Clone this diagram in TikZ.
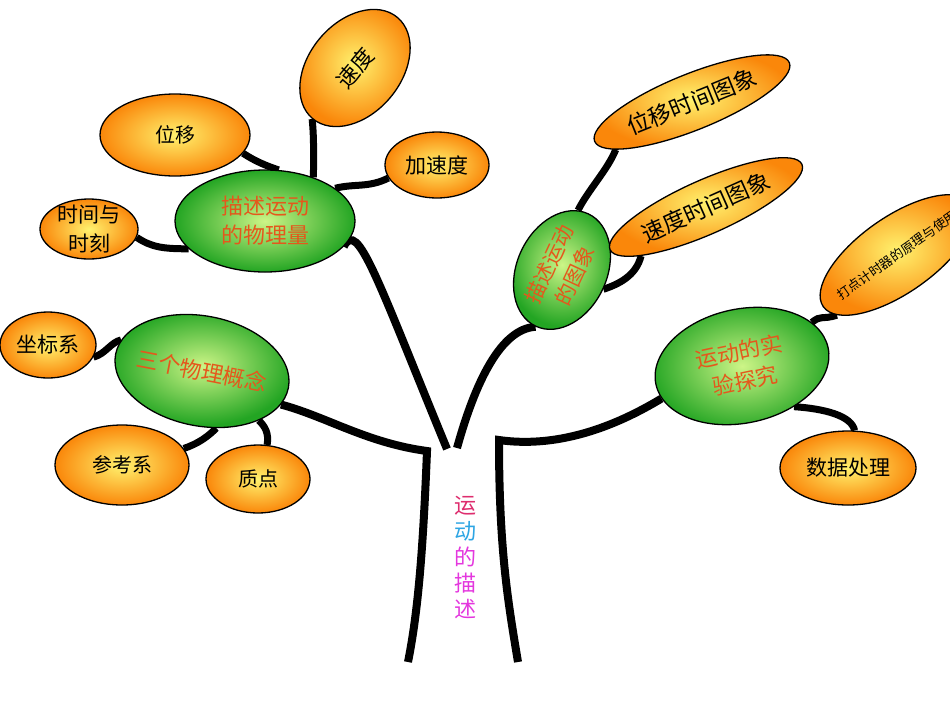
\documentclass[tikz,border=0pt]{standalone}
\usepackage{xcolor}
\usepackage{tikz}
\usetikzlibrary{shapes,backgrounds,calc}
\usepackage{fontspec}
\newfontfamily\cjk{Noto Sans CJK SC}

\definecolor{leafout}{RGB}{250,135,10}
\definecolor{leafin}{RGB}{255,242,110}
\definecolor{budout}{RGB}{35,165,35}
\definecolor{budin}{RGB}{205,245,135}
\definecolor{budtext}{RGB}{228,88,28}
\definecolor{yunred}{RGB}{222,45,110}
\definecolor{dongblue}{RGB}{45,165,228}
\definecolor{descpink}{RGB}{228,55,222}

\begin{document}
\begin{tikzpicture}[x=1pt,y=-1pt]
            \tikzstyle{leaf}=[ellipse,draw,line width=1.3pt,inner color=leafin,outer color=leafout,inner sep=0pt,align=center];
            \tikzstyle{bud}=[ellipse,draw,line width=1.3pt,inner color=budin,outer color=budout,inner sep=0pt,align=center,text=budtext];
            \tikzstyle{twig}=[line width=7pt];
            \tikzstyle{trunk}=[line width=8pt];

            \useasboundingbox (0,0) rectangle (950,713);
            \clip (0,0) rectangle (950,713);

            % the three green buds on the left, middle and right
            \node[bud,minimum width=180pt,minimum height=102pt,font=\cjk\fontsize{22pt}{29pt}\selectfont] (wlq) at (265,221) {描述运动\\的物理量};
            \node[bud,rotate=-11,minimum width=176pt,minimum height=110pt,inner xsep=-4pt,font=\cjk\fontsize{22pt}{28pt}\selectfont] (sgg) at (202,371) {三个物理概念};
            \node[bud,rotate=65,minimum width=124pt,minimum height=90pt,font=\cjk\fontsize{21pt}{28pt}\selectfont] (txg) at (562,270) {描述运动\\的图象};
            \node[bud,rotate=12,minimum width=176pt,minimum height=114pt,font=\cjk\fontsize{22pt}{30pt}\selectfont] (syt) at (742,366) {运动的实\\验探究};

            % orange leaves
            \node[leaf,minimum width=150pt,minimum height=82pt,font=\cjk\fontsize{20pt}{24pt}\selectfont] (wy) at (175,135) {位移};
            \node[leaf,rotate=50,minimum width=132pt,minimum height=92pt,font=\cjk\fontsize{22pt}{26pt}\selectfont] (sd) at (355,68) {速度};
            \node[leaf,minimum width=104pt,minimum height=66pt,font=\cjk\fontsize{21pt}{25pt}\selectfont] (jsd) at (437,165) {加速度};
            \node[leaf,minimum width=98pt,minimum height=60pt,inner ysep=-3pt,font=\cjk\fontsize{21pt}{29pt}\selectfont] (sj) at (89,229) {时间与\\时刻};
            \node[leaf,minimum width=96pt,minimum height=66pt,font=\cjk\fontsize{21pt}{25pt}\selectfont] (zbx) at (48,345) {坐标系};
            \node[leaf,minimum width=134pt,minimum height=80pt,font=\cjk\fontsize{20pt}{24pt}\selectfont] (ckx) at (122,465) {参考系};
            \node[leaf,minimum width=104pt,minimum height=68pt,font=\cjk\fontsize{20pt}{24pt}\selectfont] (zd) at (258,479) {质点};
            \node[leaf,rotate=22,minimum width=210pt,minimum height=56pt,font=\cjk\fontsize{23pt}{27pt}\selectfont] (wyt) at (692,102) {位移时间图象};
            \node[leaf,rotate=24,minimum width=210pt,minimum height=54pt,font=\cjk\fontsize{23pt}{27pt}\selectfont] (sdt) at (706,207) {速度时间图象};
            \node[leaf,rotate=35,minimum width=180pt,minimum height=76pt,inner xsep=-8pt,font=\cjk\fontsize{13pt}{16pt}\selectfont] (dsj) at (897,255) {打点计时器的原理与使用};
            \node[leaf,minimum width=136pt,minimum height=74pt,font=\cjk\fontsize{21pt}{25pt}\selectfont] (sjcl) at (848,468) {数据处理};

            % title on the trunk
            \node[font=\cjk\fontsize{22pt}{26pt}\selectfont,align=center] (title) at (465,558) {\textcolor{yunred}{运}\\\textcolor{dongblue}{动}\\\textcolor{descpink}{的}\\\textcolor{descpink}{描}\\\textcolor{descpink}{述}};

            % ends of the trunk and the fork
            \coordinate (lt) at (427,451);
            \coordinate (ltb) at (408,662);
            \coordinate (rt) at (499,440);
            \coordinate (rtb) at (518,662);
            \coordinate (vl) at (447,449);
            \coordinate (vr) at (457,448);

            \begin{scope}[on background layer]
                \fill[white] (0,0) rectangle (950,713);
                % trunk with its two low branches
                \draw[trunk] (ltb) .. controls +(10,-50) and +(-4,100) .. (lt) .. controls +(-60,-8) and +(45,12) .. (sgg.-12);
                \draw[trunk] (rtb) .. controls +(-10,-60) and +(0,110) .. (rt) .. controls +(70,10) and +(-30,18) .. (syt.190);
                % the fork in the middle
                \draw[trunk] (vl) .. controls +(-70,-170) and +(14,-28) .. (wlq.-18);
                \draw[trunk] (vr) .. controls +(18,-65) and +(-35,2) .. (txg.west);
                % twigs
                \draw[twig] (wy.-15) .. controls +(12,8) and +(-12,-4) .. (wlq.75);
                \draw[twig] (sd.west) .. controls +(2,20) and +(0,-20) .. (wlq.42);
                \draw[twig] (jsd.195) .. controls +(-20,10) and +(20,-5) .. (wlq.25);
                \draw[twig] (sj.-10) .. controls +(15,10) and +(-25,0) .. (wlq.200);
                \draw[twig] (zbx.-15) .. controls +(12,-3) and +(-10,2) .. (sgg.170);
                \draw[twig] (ckx.15) .. controls +(15,-5) and +(-8,8) .. (sgg.-65);
                \draw[twig] (zd.75) .. controls +(2,-12) and +(6,6) .. (sgg.-30);
                \draw[twig] (wyt.190) .. controls +(-8,20) and +(10,-20) .. (txg.10);
                \draw[twig] (sdt.193) .. controls +(-5,20) and +(15,-5) .. (txg.south);
                \draw[twig] (dsj.190) .. controls +(-15,5) and +(10,-8) .. (syt.20);
                \draw[twig] (sjcl.80) .. controls +(-3,-15) and +(30,2) .. (syt.-50);
            \end{scope}
\end{tikzpicture}
\end{document}
